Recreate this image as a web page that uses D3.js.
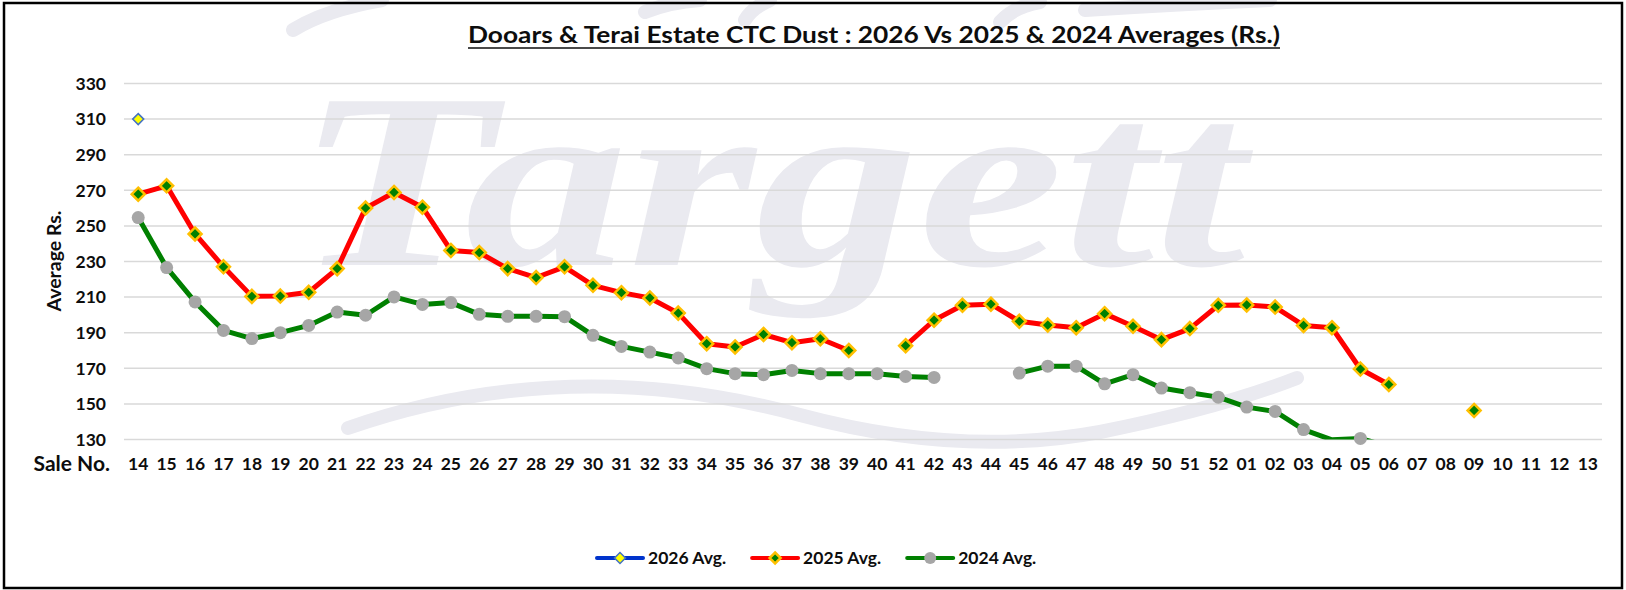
<!DOCTYPE html>
<html>
<head>
<meta charset="utf-8">
<script src="https://cdn.jsdelivr.net/npm/d3@7"></script>
<style>
  html, body { margin: 0; padding: 0; background: #fff; }
  svg { display: block; }
</style>
</head>
<body>
<div id="chart"></div>
<script>
'use strict';

// sale numbers on the x axis
const sale_no = ['14','15','16','17','18','19','20','21','22','23','24','25','26','27','28','29',
    '30','31','32','33','34','35','36','37','38','39','40','41','42','43','44','45','46','47',
    '48','49','50','51','52','01','02','03','04','05','06','07','08','09','10','11','12','13'];

const avg_2026 = [310, null, null, null, null, null, null, null, null, null, null, null, null,
    null, null, null, null, null, null, null, null, null, null, null, null, null, null, null,
    null, null, null, null, null, null, null, null, null, null, null, null, null, null, null,
    null, null, null, null, null, null, null, null, null];

const avg_2025 = [267.8, 272.5, 245.5, 227, 210.4, 210.6, 212.7, 226, 260, 268.8, 260.5, 236.2,
    235, 226, 221, 227, 216.6, 212.5, 209.5, 201, 183.8, 182, 189, 184.4, 186.6, 180, null,
    182.7, 197, 205.4, 206, 196.4, 194.3, 192.8, 200.7, 193.6, 186.1, 192.3, 205.4,
    205.6, 204.4, 194.1, 192.8, 169.6, 160.9, null, null, 146.3, null, null, null, null];

const avg_2024 = [254.7, 226.6, 207.3, 191.3, 186.7, 190, 194.1, 201.6, 199.8, 210.1, 205.9, 206.9,
    200.3, 199.2, 199.2, 199, 188.5, 182.3, 179.1, 175.8, 169.8, 167, 166.4, 168.8, 167, 167, 167,
    165.4, 164.9, null, null, 167.3, 171.2, 171.2, 161.3, 166.4, 158.9, 156.3, 153.8,
    148.2, 145.8, 135.6, 129.8, 130.6, 126, null, null, null, null, null, null, null];

const y_ticks = [130, 150, 170, 190, 210, 230, 250, 270, 290, 310, 330];

const series_names = ['2026 Avg.', '2025 Avg.', '2024 Avg.'];

// chart env
const width = 1626, height = 590;
const plot = { left: 124, right: 1602, top: 83.5, bottom: 439.5 };
const font = 'Lato, "Open Sans", sans-serif';
const text_color = '#0d0d0d';
const water_color = '#eaeaf0';

const series = [
    { name: series_names[0], values: avg_2026, line: '#0033cc', marker: 'diamond', fill: '#ffff00', stroke: '#4472c4', r: 5.5, sw: 1.5 },
    { name: series_names[1], values: avg_2025, line: '#ff0000', marker: 'diamond', fill: '#008000', stroke: '#ffc000', r: 6.5, sw: 2.5 },
    { name: series_names[2], values: avg_2024, line: '#008000', marker: 'circle', fill: '#a6a6a6', stroke: 'none', r: 6.5, sw: 0 }
];

const svg = d3.select('#chart').append('svg')
    .attr('width', width)
    .attr('height', height);

svg.append('rect')
    .attr('width', width).attr('height', height)
    .attr('fill', '#fff');

// scales
const x = d3.scaleBand().domain(sale_no).range([plot.left, plot.right]).padding(0);
const y = d3.scaleLinear().domain([130, 330]).range([plot.bottom, plot.top]);
const cx = s => x(s) + x.bandwidth() / 2;

// watermark behind everything
const wm = svg.append('g');
wm.append('text')
    .attr('x', 295).attr('y', 265)
    .attr('textLength', 950)
    .attr('lengthAdjust', 'spacingAndGlyphs')
    .attr('font-family', '"Liberation Serif", "DejaVu Serif", serif')
    .attr('font-style', 'italic')
    .attr('font-weight', 'bold')
    .attr('font-size', 250)
    .attr('fill', water_color)
    .text('Targett');

const swooshes = [
    'M348,428 Q567,352 800,415 Q960,458 1100,432 Q1220,408 1297,378',
    'M293,30 Q325,10 382,0',
    'M645,12 Q670,2 700,0',
    'M745,20 Q752,8 770,0',
    'M1000,22 Q1015,6 1040,2',
    'M1085,10 Q1180,4 1270,0'
];
wm.selectAll('path')
    .data(swooshes)
    .enter()
    .append('path')
    .attr('d', d => d)
    .attr('fill', 'none')
    .attr('stroke', water_color)
    .attr('stroke-width', 14)
    .attr('stroke-linecap', 'round');

// gridlines
svg.append('g')
    .selectAll('line')
    .data(y_ticks)
    .enter()
    .append('line')
    .attr('x1', plot.left).attr('x2', plot.right)
    .attr('y1', d => y(d)).attr('y2', d => y(d))
    .attr('stroke', '#d9d9d9')
    .attr('stroke-width', 1.5);

// y axis labels
svg.append('g')
    .selectAll('text')
    .data(y_ticks)
    .enter()
    .append('text')
    .attr('x', 106)
    .attr('y', d => y(d))
    .attr('dy', '0.36em')
    .attr('text-anchor', 'end')
    .attr('font-family', font).attr('font-weight', 'bold').attr('font-size', 17.5)
    .attr('fill', text_color)
    .text(d => d);

// x axis labels
svg.append('g')
    .selectAll('text')
    .data(sale_no)
    .enter()
    .append('text')
    .attr('x', d => cx(d))
    .attr('y', 470)
    .attr('text-anchor', 'middle')
    .attr('font-family', font).attr('font-weight', 'bold').attr('font-size', 17.5)
    .attr('fill', text_color)
    .text(d => d);

svg.append('text')
    .attr('x', 110).attr('y', 471)
    .attr('text-anchor', 'end')
    .attr('font-family', font).attr('font-weight', 'bold').attr('font-size', 21)
    .attr('fill', text_color)
    .text('Sale No.');

svg.append('text')
    .attr('transform', 'translate(61,261) rotate(-90)')
    .attr('text-anchor', 'middle')
    .attr('font-family', font).attr('font-weight', 'bold').attr('font-size', 19.5)
    .attr('fill', text_color)
    .text('Average Rs.');

// clip lines to plot area
svg.append('clipPath').attr('id', 'plot_clip')
    .append('rect')
    .attr('x', plot.left).attr('y', 0)
    .attr('width', plot.right - plot.left).attr('height', plot.bottom);

const line = d3.line()
    .defined(d => d.v != null)
    .x(d => cx(d.s))
    .y(d => y(d.v));

const diamond = r => `M0,${-r}L${r},0L0,${r}L${-r},0Z`;

function draw_marker(sel, s) {
    if (s.marker === 'circle') {
        sel.append('circle').attr('r', s.r).attr('fill', s.fill);
    } else {
        sel.append('path').attr('d', diamond(s.r))
            .attr('fill', s.fill)
            .attr('stroke', s.stroke)
            .attr('stroke-width', s.sw)
            .attr('stroke-linejoin', 'miter');
    }
}

// draw series, oldest first so 2025 sits on top
[...series].reverse().forEach(s => {
    const pts = sale_no.map((d, i) => ({ s: d, v: s.values[i] }));
    const g = svg.append('g');
    g.append('path')
        .datum(pts)
        .attr('clip-path', 'url(#plot_clip)')
        .attr('d', line)
        .attr('fill', 'none')
        .attr('stroke', s.line)
        .attr('stroke-width', 5)
        .attr('stroke-linejoin', 'round');

    g.selectAll('g.pt')
        .data(pts.filter(d => d.v != null && d.v >= 130 && d.v <= 330))
        .enter()
        .append('g')
        .attr('class', 'pt')
        .attr('transform', d => `translate(${cx(d.s)},${y(d.v)})`)
        .each(function() { draw_marker(d3.select(this), s); });
});

// title with underline
svg.append('text')
    .attr('x', 874).attr('y', 43)
    .attr('text-anchor', 'middle')
    .attr('textLength', 812)
    .attr('lengthAdjust', 'spacingAndGlyphs')
    .attr('font-family', font).attr('font-weight', 'bold').attr('font-size', 23)
    .attr('fill', text_color)
    .text('Dooars & Terai Estate CTC Dust : 2026 Vs 2025 & 2024 Averages (Rs.)');

svg.append('line')
    .attr('x1', 874 - 406).attr('x2', 874 + 406)
    .attr('y1', 48).attr('y2', 48)
    .attr('stroke', text_color)
    .attr('stroke-width', 1.6);

// legend
const legend = svg.append('g');
let lx = 597;
series.forEach(s => {
    const item = legend.append('g').attr('transform', `translate(${lx},558)`);
    item.append('line')
        .attr('x1', 0).attr('x2', 46)
        .attr('stroke', s.line)
        .attr('stroke-width', 4)
        .attr('stroke-linecap', 'round');
    const m = item.append('g').attr('transform', 'translate(23,0)');
    draw_marker(m, Object.assign({}, s, { r: s.marker === 'circle' ? 6 : 5.5 }));
    const t = item.append('text')
        .attr('x', 51).attr('dy', '0.36em')
        .attr('font-family', font).attr('font-weight', 'bold').attr('font-size', 17.5)
        .attr('fill', text_color)
        .text(s.name);
    lx += 51 + t.node().getComputedTextLength() + 26;
});

// outer frame
svg.append('rect')
    .attr('x', 4).attr('y', 3)
    .attr('width', 1618).attr('height', 585)
    .attr('fill', 'none')
    .attr('stroke', '#000')
    .attr('stroke-width', 2.5);
</script>
</body>
</html>
